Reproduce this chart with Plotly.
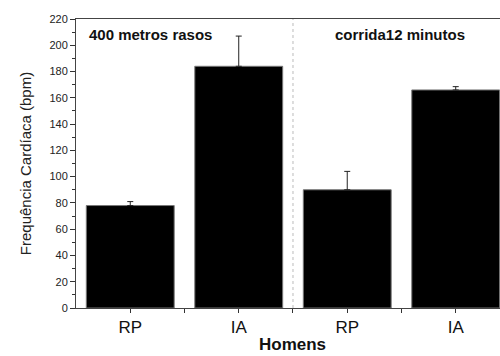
import plotly.graph_objects as go

categories = ["RP", "IA", "RP", "IA"]
positions = [1, 2, 3, 4]
values = [78, 184, 90, 166]
errors = [3, 23, 14, 2.5]
group_labels = ["400 metros rasos", "corrida12 minutos"]
y_ticks = list(range(0, 221, 20))

fig = go.Figure()
fig.add_trace(go.Bar(
    x=positions, y=values, width=0.81,
    marker=dict(color="black", line=dict(color="#777777", width=1)),
    error_y=dict(type="data", symmetric=False, array=errors,
                 arrayminus=[0, 0, 0, 0], color="#222222", thickness=1, width=3),
))

fig.add_shape(type="line", x0=2.5, x1=2.5, y0=0, y1=220, xref="x", yref="y",
              line=dict(color="#bbbbbb", width=1, dash="dot"))

fig.add_annotation(x=0.6, y=0.945, xref="x", yref="paper", text="<b>" + group_labels[0] + "</b>",
                   showarrow=False, xanchor="left", yanchor="middle",
                   font=dict(family="Liberation Sans, Arial", size=15, color="#111"))
fig.add_annotation(x=3.49, y=0.945, xref="x", yref="paper", text="<b>" + group_labels[1] + "</b>",
                   showarrow=False, xanchor="center", yanchor="middle",
                   font=dict(family="Liberation Sans, Arial", size=15, color="#111"))
fig.add_annotation(x=2.5, y=-0.125, xref="x", yref="paper", text="<b>Homens</b>",
                   showarrow=False, xanchor="center", yanchor="middle",
                   font=dict(family="Liberation Sans, Arial", size=17, color="#111"))

fig.update_layout(
    width=500, height=356,
    margin=dict(l=76, r=0, t=19, b=48),
    plot_bgcolor="white", paper_bgcolor="white",
    showlegend=False,
    font=dict(family="Liberation Sans, Arial", color="#222"),
    xaxis=dict(range=[0.5, 4.408], tickmode="array", tickvals=positions, ticktext=categories,
               ticks="outside", ticklen=4, tickcolor="#333", showline=True, linecolor="#444",
               linewidth=1, mirror=True, showgrid=False, zeroline=False,
               tickfont=dict(size=17, color="#111"),
               minor=dict(tickmode="array", tickvals=[1.5, 2.5, 3.5], ticks="outside",
                          ticklen=4, tickcolor="#333")),
    yaxis=dict(range=[0, 220], tickmode="array", tickvals=y_ticks,
               ticks="outside", ticklen=5, tickcolor="#333", showline=True, linecolor="#444",
               linewidth=1, mirror=True, showgrid=False, zeroline=False,
               tickfont=dict(size=11, color="#222"),
               title=dict(text="Frequência Cardíaca (bpm)", font=dict(size=15, color="#222"), standoff=14),
               minor=dict(tickmode="array", tickvals=list(range(10, 220, 20)), ticks="outside",
                          ticklen=3, tickcolor="#333")),
)

fig.write_html("out.html")
